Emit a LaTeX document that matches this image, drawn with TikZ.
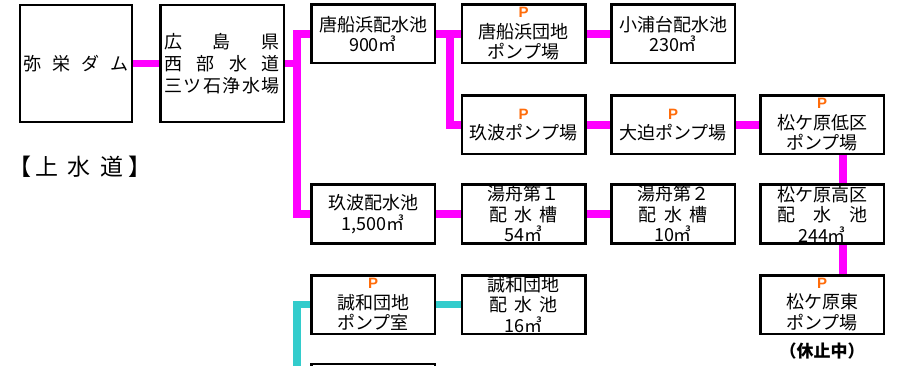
\documentclass[tikz,border=0pt]{standalone}
\usepackage{fontspec}
\usetikzlibrary{backgrounds}
\setmainfont{Noto Sans CJK JP}
\newfontfamily\latinb{Liberation Sans}
\definecolor{mag}{RGB}{255,0,255}
\definecolor{cyn}{RGB}{51,204,204}
\definecolor{pcol}{RGB}{255,108,10}
\newcommand{\pp}{{\latinb\bfseries\fontsize{15}{15}\selectfont\color{pcol}P}}
\newcommand{\spr}[2]{\hbox to #1{#2}}
\tikzset{
  box/.style={draw=black, line width=2.5pt, fill=white, minimum width=123.5pt, minimum height=58.5pt, inner sep=0pt, align=center, font=\fontsize{18}{20.5}\selectfont},
  magline/.style={draw=mag, line width=7.5pt},
  cynline/.style={draw=cyn, line width=7.5pt},
}
\begin{document}
\begin{tikzpicture}[x=1pt,y=-1pt]
\useasboundingbox (0,0) rectangle (899,366);
\clip (0,0) rectangle (899,366);
\coordinate (bx) at (297,0);
\coordinate (brx) at (450,0);
\coordinate (vx) at (843,0);
\coordinate (cbot) at (297,380);
\path
 (76,63.5) node[box, minimum width=112pt, minimum height=117pt] (dam) {\spr{105pt}{弥\hfil 栄\hfil ダ\hfil ム}}
 (222,63.5) node[box, minimum height=117pt, font=\fontsize{18}{22}\selectfont] (hiro) {\spr{116pt}{広\hfil 島\hfil 県}\\ \spr{116pt}{西\hfil 部\hfil 水\hfil 道}\\ \spr{116pt}{三\hfil ツ\hfil 石\hfil 浄\hfil 水\hfil 場}}
 (373,34) node[box] (kara) {唐船浜配水池\\900㎥}
 (523.5,34) node[box] (karaP) {\pp\\唐船浜団地\\ポンプ場}
 (673,34) node[box] (koura) {小浦台配水池\\230㎥}
 (523.5,125) node[box] (kubaP) {\pp\\玖波ポンプ場}
 (673,125) node[box] (oosako) {\pp\\大迫ポンプ場}
 (822,125) node[box] (mlow) {\pp\\松ケ原低区\\ポンプ場}
 (373,214) node[box] (kubaR) {玖波配水池\\1,500㎥}
 (523.5,214) node[box] (yu1) {湯舟第１\\配\hspace{0.4em}水\hspace{0.4em}槽\\54㎥}
 (673,214) node[box] (yu2) {湯舟第２\\配\hspace{0.4em}水\hspace{0.4em}槽\\10㎥}
 (822,214) node[box] (mhigh) {松ケ原高区\\ \spr{5em}{配\hfil 水\hfil 池}\\244㎥}
 (822,304.5) node[box] (meast) {\pp\\松ケ原東\\ポンプ場}
 (373,304.5) node[box] (seiwaP) {\pp\\誠和団地\\ポンプ室}
 (523.5,304.5) node[box] (seiwaR) {誠和団地\\配\hspace{0.4em}水\hspace{0.4em}池\\16㎥}
 (373,393) node[box] (nextbox) {}
 (822,351) node[font=\bfseries\fontsize{17}{17}\selectfont] (kyushi) {（休止中）}
 (80,167) node[inner sep=0pt, font=\fontsize{23}{23}\selectfont] (title) {【\makebox[31pt]{上}\makebox[33pt]{水}\makebox[33pt]{道}】};
\begin{pgfonlayer}{background}
\draw[magline] (dam) -- (hiro);
\draw[magline] (hiro.east) -- (hiro.east -| bx);
\draw[magline] (kara.west) -- (kara.west -| bx) -- (kubaR.west -| bx) -- (kubaR.west);
\draw[magline] (kara) -- (karaP);
\draw[magline] (karaP) -- (koura);
\draw[magline] (kara.east -| brx) |- (kubaP.west);
\draw[magline] (kubaP) -- (oosako);
\draw[magline] (oosako) -- (mlow);
\draw[magline] (mlow.south -| vx) -- (mhigh.north -| vx);
\draw[magline] (mhigh.south -| vx) -- (meast.north -| vx);
\draw[magline] (kubaR) -- (yu1);
\draw[magline] (yu1) -- (yu2);
\draw[cynline] (seiwaP) -- (seiwaR);
\draw[cynline] (seiwaP.west) -| (cbot);
\end{pgfonlayer}
\end{tikzpicture}
\end{document}
